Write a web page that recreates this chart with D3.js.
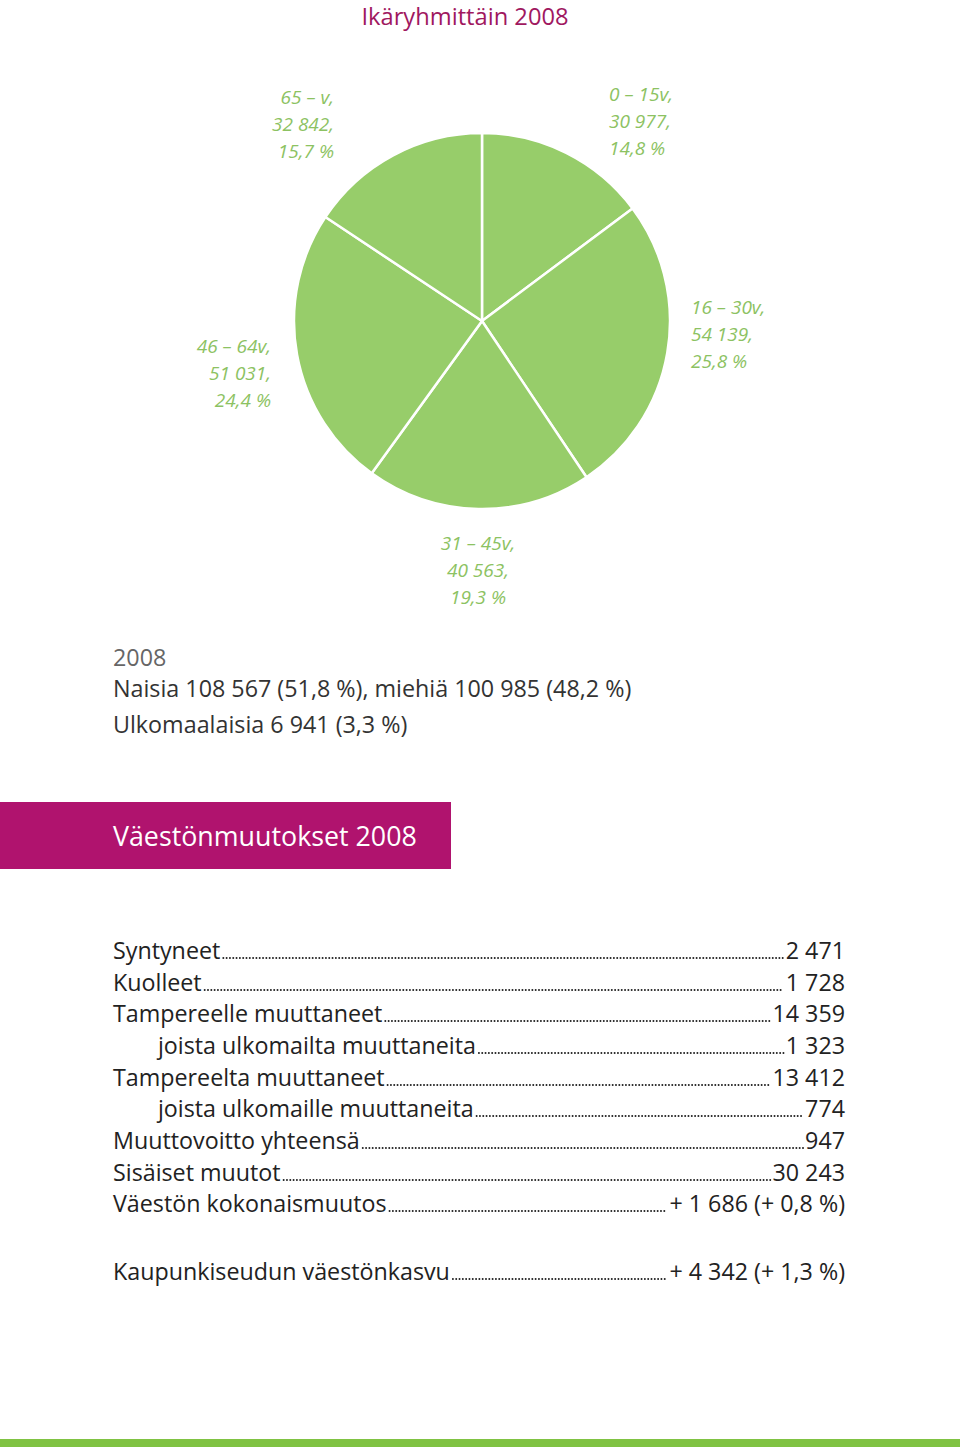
<!DOCTYPE html>
<html><head><meta charset="utf-8">
<script src="https://cdn.jsdelivr.net/npm/d3@7"></script>
<style>body{margin:0;background:#fff}svg{display:block}</style>
</head><body>
<script>
// ---- data ----
const ageGroups = ["0 – 15v,", "16 – 30v,", "31 – 45v,", "46 – 64v,", "65 – v,"];
const ageCounts = [30977, 54139, 40563, 51031, 32842];
const ageCountLabels = ["30 977,", "54 139,", "40 563,", "51 031,", "32 842,"];
const agePercents = ["14,8 %", "25,8 %", "19,3 %", "24,4 %", "15,7 %"];
const infoLines = ["2008", "Naisia 108 567 (51,8 %), miehiä 100 985 (48,2 %)", "Ulkomaalaisia 6 941 (3,3 %)"];
const changeLabels = ["Syntyneet", "Kuolleet", "Tampereelle muuttaneet", "joista ulkomailta muuttaneita",
  "Tampereelta muuttaneet", "joista ulkomaille muuttaneita", "Muuttovoitto yhteensä", "Sisäiset muutot",
  "Väestön kokonaismuutos", "Kaupunkiseudun väestönkasvu"];
const changeValues = ["2 471", "1 728", "14 359", "1 323", "13 412", "774", "947", "30 243",
  "+ 1 686 (+ 0,8 %)", "+ 4 342 (+ 1,3 %)"];
const changeIndent = [false, false, false, true, false, true, false, false, false, false];

const W = 960, H = 1447;
const svg = d3.select("body").append("svg").attr("width", W).attr("height", H);
const font = "'Open Sans', 'Noto Sans', sans-serif";

// title
svg.append("text").attr("x", 465).attr("y", 25).attr("text-anchor", "middle")
  .attr("font-family", font).attr("font-size", 23.7).attr("fill", "#a0185f")
  .text("Ikäryhmittäin 2008");

// pie
const cx = 482, cy = 321, R = 188;
const pie = d3.pie().sort(null).value(d => d)(ageCounts);
const arc = d3.arc().innerRadius(0).outerRadius(R);
const g = svg.append("g").attr("transform", `translate(${cx},${cy})`);
g.selectAll("path").data(pie).join("path").attr("d", arc)
  .attr("fill", "#97cd6a").attr("stroke", "#fff").attr("stroke-width", 2.5);

// labels positions (anchor, x, first baseline)
const labelPos = [
  {x: 609, y: 101, a: "start"},
  {x: 691, y: 314, a: "start"},
  {x: 478, y: 550, a: "middle"},
  {x: 271, y: 353, a: "end"},
  {x: 334, y: 104, a: "end"}
];
ageGroups.forEach((name, i) => {
  const p = labelPos[i];
  const t = svg.append("text").attr("text-anchor", p.a).attr("font-family", font)
    .attr("font-style", "italic").attr("font-size", 19).attr("fill", "#8cc262");
  [name, ageCountLabels[i], agePercents[i]].forEach((s, j) => {
    t.append("tspan").attr("x", p.x).attr("y", p.y + j * 27).text(s);
  });
});

// info block
infoLines.forEach((s, i) => {
  svg.append("text").attr("x", 113).attr("y", [666, 697, 733][i])
    .attr("font-family", font).attr("font-size", 23.3)
    .attr("fill", i === 0 ? "#666" : "#333").text(s);
});

// magenta header bar
svg.append("rect").attr("x", 0).attr("y", 802).attr("width", 451).attr("height", 67).attr("fill", "#b0136e");
svg.append("text").attr("x", 113).attr("y", 846).attr("font-family", font).attr("font-size", 26.8)
  .attr("fill", "#fff").text("Väestönmuutokset 2008");

// list with leader dots
const rowY = [959, 991, 1022, 1054, 1086, 1117, 1149, 1181, 1212, 1280];
const rightX = 845;
const sx = 0.97;
changeLabels.forEach((lab, i) => {
  const y = rowY[i];
  const x0 = changeIndent[i] ? 158 : 113;
  const lt = svg.append("text").attr("font-family", font).attr("font-size", 24).attr("fill", "#222")
    .attr("transform", `translate(${x0},${y}) scale(${sx},1)`).text(lab);
  const vt = svg.append("text").attr("font-family", font).attr("font-size", 24).attr("fill", "#222")
    .attr("text-anchor", "end")
    .attr("transform", `translate(${rightX},${y}) scale(${sx},1)`).text(changeValues[i]);
  const lw = lt.node().getComputedTextLength() * sx;
  const vw = vt.node().getComputedTextLength() * sx;
  svg.append("line").attr("x1", x0 + lw + 3).attr("x2", rightX - vw - 2)
    .attr("y1", y - 1).attr("y2", y - 1)
    .attr("stroke", "#222").attr("stroke-width", 2).attr("stroke-linecap", "round")
    .attr("stroke-dasharray", "0.01 3.3");
});

// bottom green band
svg.append("rect").attr("x", 0).attr("y", 1439).attr("width", W).attr("height", 8).attr("fill", "#80c343");
</script>
</body></html>
